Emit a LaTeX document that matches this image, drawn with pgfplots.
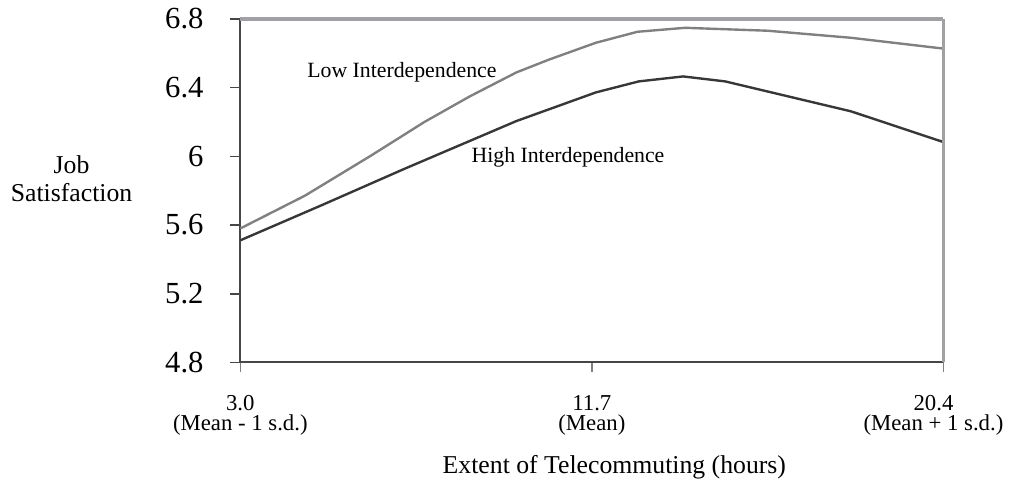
\documentclass[border=0pt]{standalone}
\usepackage{pgfplots}
\pgfplotsset{compat=1.18}
\usepackage{fontspec}
\setmainfont{Liberation Serif}

\definecolor{lowline}{RGB}{128,128,128}
\definecolor{highline}{RGB}{55,55,55}
\definecolor{framegray}{RGB}{160,160,165}
\definecolor{axisdark}{RGB}{70,70,70}

\begin{document}
\begin{tikzpicture}
\begin{axis}[
    scale only axis,
    width=354bp, height=173bp,
    xmin=3, xmax=20.4,
    ymin=4.8, ymax=6.8,
    axis x line=bottom, axis y line=left,
    axis line style={-, line width=1bp, draw=axisdark},
    tick align=outside,
    major tick length=5bp,
    xtick={3,11.7,20.4},
    xticklabels={{3.0\\(Mean - 1 s.d.)},{11.7\\(Mean)},{\hspace*{-10bp}20.4\\\hspace*{-10bp}(Mean + 1 s.d.)}},
    xticklabel style={align=center, font=\fontsize{11.5}{10}\selectfont, yshift=-8bp},
    xtick style={draw=lowline, line width=0.8bp},
    ytick={4.8,5.2,5.6,6,6.4,6.8},
    yticklabels={4.8,5.2,5.6,6,6.4,6.8},
    yticklabel style={font=\fontsize{15.5}{18}\selectfont, xshift=-10bp},
    ytick style={draw=axisdark, line width=0.8bp},
    xlabel={Extent of Telecommuting (hours)},
    xlabel style={at={(axis description cs:0.532,0)}, anchor=base, yshift=-56bp,
        font=\fontsize{13}{15}\selectfont},
    ylabel={Job\\Satisfaction},
    ylabel style={rotate=-90, align=center, at={(axis description cs:-0.24,0.535)},
        anchor=center, font=\fontsize{13}{14.5}\selectfont},
    clip=false,
]
    % frame of the picture
    \path (rel axis cs:0,0) ++(-121bp,-61.5bp) rectangle ++(505bp,244bp);

    % low interdependence
    \addplot[lowline, line width=1.2bp] coordinates {
        (3.0,5.580) (4.60,5.771) (6.22,6.002) (7.55,6.199) (8.68,6.349)
        (9.83,6.488) (10.64,6.563) (11.80,6.661) (12.83,6.725) (14.01,6.748)
        (16.05,6.731) (18.11,6.690) (20.4,6.627)
    };

    % high interdependence
    \addplot[highline, line width=1.2bp] coordinates {
        (3.0,5.511) (4.99,5.713) (7.06,5.927) (9.83,6.205) (11.80,6.372)
        (12.86,6.436) (13.96,6.465) (15.0,6.436) (18.11,6.262) (20.4,6.083)
    };

    \draw[framegray, line width=2bp] (rel axis cs:0,1) -- (rel axis cs:1,1);
    \draw[framegray, line width=1.5bp] (rel axis cs:1,1) -- (rel axis cs:1,0);

    \node[font=\fontsize{11}{13}\selectfont] at (axis cs:7.0,6.488) {Low Interdependence};
    \node[font=\fontsize{11}{13}\selectfont] at (axis cs:11.11,5.997) {High Interdependence};
\end{axis}
\end{tikzpicture}
\end{document}
